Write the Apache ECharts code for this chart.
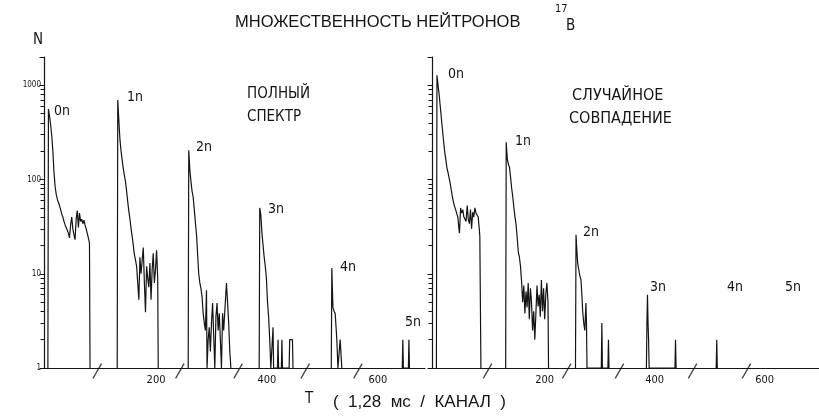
<!DOCTYPE html>
<html>
<head>
<meta charset="utf-8">
<script src="https://cdn.jsdelivr.net/npm/echarts@6/dist/echarts.min.js"></script>
<style>
  html, body { margin: 0; padding: 0; background: #fff; }
  #chart { width: 819px; height: 420px; }
</style>
</head>
<body>
<div id="chart"></div>
<script>
// Neutron multiplicity time spectra for 17B: counts per channel, [channel, N]

// full spectrum, multiplicity windows 0n..5n
const full0n = [[5,1],[6,560],[8,470],[10,380],[12,290],[14,200],[16,120],[18,85],[20,70],[22,62],[24,57],[26,53],[28,48],[30,43],[32,40],[34,36],[36,33],[38,31],[40,29],[42,27],[44,24],[46,33],[48,40],[50,30],[52,26],[54,23],[56,38],[58,47],[60,31],[62,44],[64,36],[66,38],[68,34],[70,37],[72,33],[74,30],[76,29],[78,24],[80,21],[81,1]];
const full1n = [[130,1],[131,700],[133,420],[135,262],[137,200],[139,160],[141,130],[143,110],[145,95],[147,75],[149,58],[151,46],[153,38],[155,30],[157,25],[159,20],[161,16],[163,14],[165,12],[167,8],[169,5.3],[171,15],[173,10],[175,14],[177,19],[179,8],[181,3.9],[183,12],[185,9],[187,7.2],[189,13],[191,5.3],[193,11],[195,16.5],[197,8],[199,11],[201,17.8],[203,9.2],[204,1]];
const full2n = [[258,1],[259,205],[261,126],[263,95],[265,75],[267,65],[269,48],[271,35],[273,26],[275,16],[277,10],[279,8],[281,7],[283,5.7],[285,3.8],[287,3],[289,2.5],[291,6.7],[292,1],[294,2],[296,2.7],[298,1.5],[300,3],[302,4.9],[304,2.2],[306,1],[308,3.5],[310,4.9],[312,2.5],[314,3.8],[316,2],[318,1],[320,3.8],[322,2.5],[324,4],[327,8],[329,5],[331,3],[333,1.5],[335,1]];
const full3n = [[386,1],[387,50],[389,42],[391,27],[393,20],[395,15],[397,12],[399,9],[401,5],[403,3.5],[405,2],[407,1],[409,1],[411,2.7],[412,1],[419,1],[420,2],[421,1],[426,1],[427,2],[428,1],[440,1],[441,2],[446,2],[447,1]];
const full4n = [[516,1],[517,11.5],[518,7],[519,4.4],[521,4],[523,3.8],[525,2.5],[526,2],[528,1],[531,1],[532,2],[534,2],[535,1]];
const full5n = [[644,1],[645,2],[646,1],[655,1],[656,2],[657,1]];

// random coincidences, same windows
const rand0n = [[3,1],[4,1280],[6,1000],[8,800],[10,600],[12,450],[14,340],[16,260],[18,200],[20,165],[22,135],[24,120],[26,105],[28,92],[30,78],[32,66],[34,58],[36,52],[38,48],[40,46],[42,40],[44,30],[45,27],[47,50],[49,44],[51,48],[53,40],[55,42],[57,36],[59,53],[61,38],[63,34],[65,48],[67,30],[69,45],[71,40],[73,50],[75,44],[77,46],[79,40],[81,30],[82,25],[84,1]];
const rand1n = [[129,1],[130,249],[132,165],[134,145],[136,135],[138,105],[140,80],[142,65],[144,50],[146,40],[148,33],[150,24],[152,17],[154,15],[156,12],[158,8.2],[160,5],[162,7.5],[164,3.8],[166,6.5],[168,4.4],[170,8],[172,3.3],[174,7],[176,5],[178,2.5],[180,4],[182,2],[184,3.8],[186,7.5],[188,4.5],[190,6],[192,3.5],[194,8.6],[196,4],[198,7],[200,3.3],[202,6],[204,8],[206,5],[207,1]];
const rand2n = [[256,1],[257,26],[258,20],[260,13],[262,11],[264,9.5],[266,8.6],[268,5.5],[269,4.1],[271,3],[273,2.5],[275,4.9],[276,3],[277,1],[303,1],[304,3],[305,1],[315,1],[316,2],[317,1]];
const rand3n = [[385,1],[386,3],[387,6],[388,3],[389,2],[390,1],[437,1],[438,2],[439,1]];
const rand4n = [[512,1],[513,2],[514,1]];

// window separators drawn on the time axis (channel numbers)
const fullBreaks = [94, 243, 348, 469, 564];
const randBreaks = [96, 240, 336, 469, 567];

// axis labels
const timeTicks = [200, 400, 600];
const countTicks = [1, 10, 100, 1000];
const countMax = 2000;

const INK = '#141414';
const NARROW = '"Liberation Sans Narrow","DejaVu Sans Condensed","Liberation Sans",sans-serif';
const WIDE = '"Liberation Sans","DejaVu Sans",sans-serif';

// logarithmic sub-ticks 2..9 within each decade, in log10 units
const subTicks = [];
countTicks.forEach(d => { for (let k = 2; k <= 9; k++) { if (d * k < countMax) subTicks.push(Math.log10(d * k)); } });

function spectrum(data, idx) {
  return {
    type: 'line', xAxisIndex: idx, yAxisIndex: idx, data: data,
    symbol: 'none', silent: true, animation: false,
    lineStyle: { color: INK, width: 1.2 }
  };
}
function separators(chs, idx) {
  return {
    type: 'scatter', xAxisIndex: idx, yAxisIndex: idx,
    data: chs.map(c => [c, 1]),
    symbol: 'rect', symbolSize: [1.3, 17], symbolRotate: -30, symbolOffset: [0, 3],
    itemStyle: { color: INK }, clip: false, silent: true, animation: false, z: 5
  };
}
function timeAxis(idx, min, max) {
  return {
    gridIndex: idx, type: 'value', min: min, max: max,
    axisLine: { show: true, onZero: false, lineStyle: { color: INK, width: 1.2 } },
    axisTick: { show: false }, splitLine: { show: false },
    axisLabel: { customValues: timeTicks, color: INK, fontSize: 11, margin: 7, fontFamily: NARROW }
  };
}
function countAxis(idx, labels) {
  return {
    gridIndex: idx, type: 'log', logBase: 10, min: 1, max: countMax, position: 'left',
    axisLine: { show: true, onZero: false, lineStyle: { color: INK, width: 1.2 } },
    axisTick: { show: true, length: 4.5, lineStyle: { color: INK } },
    splitLine: { show: false },
    axisLabel: {
      show: labels, color: INK, fontSize: 8, margin: 3, fontFamily: NARROW,
      formatter: v => { const r = Math.round(v); return (countTicks.includes(r) && Math.abs(v - r) < 1e-6) ? String(r) : ''; }
    }
  };
}
// companion axis in log10 units carrying only the small sub-decade ticks
function subTickAxis(idx) {
  return {
    gridIndex: idx, type: 'value', min: 0, max: Math.log10(countMax), position: 'left', offset: 0,
    axisLine: { show: false, onZero: false },
    splitLine: { show: false },
    axisLabel: { show: false },
    axisTick: { show: true, customValues: subTicks, length: 3.5, lineStyle: { color: INK, width: 1 } }
  };
}
function txt(text, x, y, size, family) {
  return { type: 'text', left: x, top: y, silent: true,
    style: { text: text, fill: INK, font: size + 'px ' + (family || NARROW) } };
}

const chart = echarts.init(document.getElementById('chart'), null, { renderer: 'canvas' });
chart.setOption({
  backgroundColor: '#fff',
  animation: false,
  grid: [
    { left: 44, width: 381, top: 57, height: 311 },
    { left: 432, width: 387, top: 57, height: 311 }
  ],
  xAxis: [timeAxis(0, -2, 685), timeAxis(1, -5, 699)],
  yAxis: [countAxis(0, true), countAxis(1, false), subTickAxis(0), subTickAxis(1)],
  series: [
    spectrum(full0n, 0), spectrum(full1n, 0), spectrum(full2n, 0),
    spectrum(full3n, 0), spectrum(full4n, 0), spectrum(full5n, 0),
    spectrum(rand0n, 1), spectrum(rand1n, 1), spectrum(rand2n, 1),
    spectrum(rand3n, 1), spectrum(rand4n, 1),
    separators(fullBreaks, 0), separators(randBreaks, 1)
  ],
  graphic: [
    txt('МНОЖЕСТВЕННОСТЬ НЕЙТРОНОВ', 235, 14, 16.5, WIDE),
    txt('17', 555, 4, 11),
    txt('B', 566, 19, 15),
    txt('N', 33, 33, 15),
    txt('ПОЛНЫЙ', 247, 87, 15),
    txt('СПЕКТР', 247, 110, 15),
    txt('СЛУЧАЙНОЕ', 572, 88, 16),
    txt('СОВПАДЕНИЕ', 569, 111, 16),
    txt('0n', 54, 104, 14), txt('1n', 127, 90, 14), txt('2n', 196, 140, 14),
    txt('3n', 268, 202, 14), txt('4n', 340, 260, 14), txt('5n', 405, 315, 14),
    txt('0n', 448, 67, 14), txt('1n', 515, 134, 14), txt('2n', 583, 225, 14),
    txt('3n', 650, 280, 14), txt('4n', 727, 280, 14), txt('5n', 785, 280, 14),
    txt('T', 305, 392, 15),
    txt('(  1,28  мс  /  КАНАЛ  )', 333, 394, 17, WIDE)
  ]
});
</script>
</body>
</html>
